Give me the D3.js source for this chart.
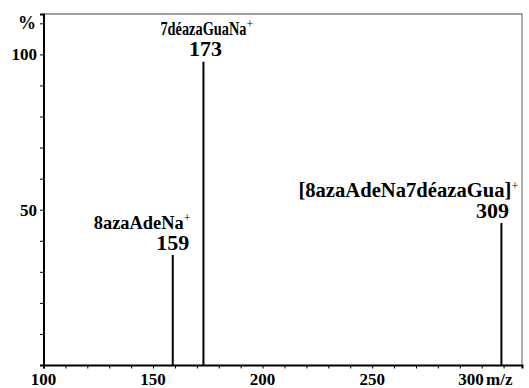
<!DOCTYPE html>
<html><head><meta charset="utf-8">
<script src="https://cdn.jsdelivr.net/npm/d3@7"></script>
<style>body{margin:0;background:#fff}svg{display:block}text{font-family:"Liberation Serif","Times New Roman",serif;font-weight:bold;fill:#000}</style>
</head><body>
<script>
const mz = [159, 173, 309];
const intensity = [35.4, 97.6, 45.7];
const names = ["8azaAdeNa", "7déazaGuaNa", "[8azaAdeNa7déazaGua]"];
const xTickLabels = [100, 150, 200, 250, 300];
const yTickLabels = [50, 100];

const W = 529, H = 388;
const svg = d3.select("body").append("svg").attr("width", W).attr("height", H);
const x = d3.scaleLinear().domain([100, 318.4]).range([43.5, 522]);
const y = d3.scaleLinear().domain([0, 113]).range([365, 14]);

// frame (top & right, gray)
svg.append("path").attr("d", `M${x(100)},${y(113)}H${x(318.4)}V${y(0)}`)
  .attr("fill", "none").attr("stroke", "#808080").attr("stroke-width", 1.3);

// x axis
const xa = svg.append("g").attr("transform", `translate(0,${y(0)})`)
  .call(d3.axisBottom(x).tickValues(d3.range(100, 311, 10)).tickSize(3.5).tickFormat(""));
xa.select(".domain").attr("stroke-width", 2);
xa.selectAll("line").attr("stroke-width", 1);
xa.selectAll(".xl").data(xTickLabels).enter().append("text")
  .attr("x", d => x(d) + (d === 300 ? 2 : 0)).attr("y", 19.5)
  .attr("text-anchor", d => d === 300 ? "end" : "middle").attr("font-size", 17).text(d => d);
svg.append("text").attr("x", 486).attr("y", 384.5).attr("font-size", 17).text("m/z");

// y axis
const ya = svg.append("g").attr("transform", `translate(${x(100)},0)`)
  .call(d3.axisLeft(y).tickValues(d3.range(10, 111, 10)).tickSize(3.5).tickFormat(""));
ya.select(".domain").attr("stroke-width", 2);
ya.selectAll("line").attr("stroke-width", 1);
ya.selectAll(".yl").data(yTickLabels).enter().append("text")
  .attr("x", -6.5).attr("y", d => y(d) + 6)
  .attr("text-anchor", "end").attr("font-size", 17).text(d => d);
svg.append("text").attr("x", 36).attr("y", y(110) + 6).attr("text-anchor", "end")
  .attr("font-size", 18).text("%");

// peaks
svg.selectAll(".pk").data(mz).enter().append("line")
  .attr("x1", d => x(d)).attr("x2", d => x(d))
  .attr("y1", y(0)).attr("y2", (d, i) => y(intensity[i]))
  .attr("stroke", "#000").attr("stroke-width", 2);

// labels: name start offset from peak, name length, name font, number centre offset
const nameStart = [-79, -43, -203];
const nameLen = [90, 86, 213];
const nameFont = [18, 18, 20];
const numCentre = [0, 2, -9];
mz.forEach((d, i) => {
  const top = y(intensity[i]);
  svg.append("text").attr("x", x(d) + numCentre[i]).attr("y", top - 5.5)
    .attr("text-anchor", "middle").attr("font-size", 22).text(d);
  const n = svg.append("text").attr("x", x(d) + nameStart[i]).attr("y", top - 26.5)
    .attr("font-size", nameFont[i]);
  n.append("tspan").attr("textLength", nameLen[i]).attr("lengthAdjust", "spacingAndGlyphs").text(names[i]);
  n.append("tspan").attr("dy", -7).attr("font-size", 12).attr("font-weight", "normal").text("+");
});
</script>
</body></html>
